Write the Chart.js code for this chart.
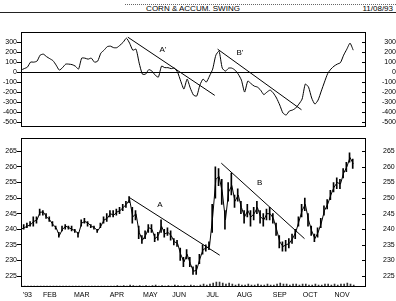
<!DOCTYPE html>
<html>
<head>
<meta charset="utf-8">
<script src="https://cdn.jsdelivr.net/npm/chart.js@4.4.1/dist/chart.umd.min.js"></script>
<style>
  html, body { margin: 0; padding: 0; background: #fff; }
  body { width: 396px; height: 301px; position: relative; overflow: hidden;
         font-family: 'Liberation Sans Narrow', 'Arial Narrow', sans-serif; color: #000; }
  .rule { position: absolute; height: 0; }
  .head { position: absolute; top: 5px; font-size: 8px; line-height: 7px; white-space: nowrap; color: #000; }
  canvas { position: absolute; left: 0; }
</style>
</head>
<body>
<div class="rule" style="left:125px; right:0; top:4px; border-top:1px dotted #666;"></div>
<div class="rule" style="left:0; right:0; top:12px; border-top:1px solid #222;"></div>
<div class="head" style="left:0; width:386px; text-align:center;">CORN &amp; ACCUM. SWING</div>
<div class="head" style="right:3px;">11/08/93</div>
<canvas id="swing-chart" width="396" height="104" style="top:28px"></canvas>
<canvas id="price-chart" width="396" height="167" style="top:134px"></canvas>
<script>
// one sample every 2 trading days, Jan 4 .. Nov 8 1993
const priceHigh = [
    241, 241.5, 242, 242.5, 244, 244, 246.5, 246, 245, 244,
    242.5, 241, 239, 241, 241.5, 241, 241, 240, 239, 243,
    243.5, 242.5, 241.5, 241, 240, 242, 244, 245, 246, 246,
    246.5, 247, 248, 249, 250.5, 247, 246, 241, 238, 239.5,
    241.5, 241.5, 238.5, 239, 243, 240, 240.5, 239.5, 237, 236.5,
    234, 231, 233.5, 231, 228, 228.5, 232, 235, 235, 236,
    248, 260, 259.5, 256, 246, 255, 258, 251, 253, 249,
    246, 248, 246, 247, 249, 246, 245, 246.5, 247, 245,
    242, 238, 236, 236.5, 237, 238.5, 240, 244, 248, 250,
    245, 241, 238.5, 240.5, 243.5, 247.5, 249.5, 252.5, 255, 256.5,
    256, 259.5, 261.5, 264.5, 262.5
];
const priceLow = [
    239, 240, 240.5, 241, 241, 242, 244.5, 244.5, 243.5, 242.5,
    241, 240, 237.5, 239.5, 240, 240, 239.5, 239, 237.5, 241,
    242, 241, 240.5, 240, 239, 240.5, 242, 242.5, 244, 244,
    244.5, 245, 246, 247, 248.5, 242, 243, 237, 235.5, 237,
    239, 239, 236, 236.5, 239, 237.5, 238, 236.5, 235, 234.5,
    230, 228, 230.5, 228, 225.5, 225.5, 229, 232, 233, 233.5,
    239, 250, 254, 248, 240, 249, 251, 247, 249, 245,
    242, 244, 241, 243, 245, 242, 241, 243, 243, 242,
    238, 234, 233, 233, 234, 235.5, 237, 241, 244, 246,
    241, 238, 236, 237.5, 240.5, 244.5, 246.5, 249.5, 252, 253,
    253, 256.5, 258.5, 261.5, 259.5
];
const priceClose = [
    240, 240.5, 241, 241.5, 242.5, 243, 245.5, 245.5, 244, 243,
    241.5, 240.5, 238, 240, 241, 240.5, 240, 239.5, 238.5, 242,
    242.5, 242, 241, 240.5, 239.5, 241, 243, 243.5, 245, 244.5,
    245.5, 246, 247, 248, 249.5, 244, 245, 239, 236.5, 238,
    240.5, 240, 237, 238, 241, 238.5, 239, 238, 236, 235.5,
    232, 229.5, 232, 229, 226.5, 227, 230.5, 233.5, 234, 234.5,
    244, 256, 257, 252, 243, 252, 254, 249, 251, 247,
    244, 246, 244, 245, 247, 244, 243, 245, 245, 243.5,
    240, 236, 234.5, 235, 235.5, 237, 239, 242.5, 246, 248,
    243, 239.5, 237, 239, 242, 246, 248, 251, 253.5, 255,
    254.5, 258, 260, 263, 261
];
// volume, relative units
const volume = [
    1, 1, 1, 1, 1, 1, 1, 1, 1, 1,
    1, 1, 1, 1, 1, 1, 1, 1, 1, 1,
    1, 1, 1, 1, 1, 1, 1, 1, 1, 1,
    1.5, 1, 1.5, 1, 2, 1.5, 1, 1.5, 1, 1.5,
    1, 1.5, 2, 1, 1.5, 1, 1.5, 1, 2, 1.5,
    1, 1.5, 1, 2, 1.5, 1, 2, 3, 2, 3,
    4, 5, 5, 4, 3, 4, 3, 2, 3, 2,
    2, 3, 2, 2, 3, 2, 2, 3, 2, 2,
    3, 4, 3, 3, 2, 3, 3, 2, 3, 3,
    2, 2, 3, 2, 2, 3, 3, 2, 3, 2,
    3, 3, 4, 3, 2
];
const swingIndex = [
    20, 35, 50, 100, 100, 110, 170, 180, 155, 135,
    115, 70, 20, 45, 80, 80, 75, 60, 30, 140,
    140, 130, 140, 100, 110, 190, 220, 255, 260, 245,
    245, 270, 300, 340, 290, 220, 230, 90, -20, -20,
    25, 10, -30, -50, 60, 45, 45, 35, 40, 0,
    -90, -170, -70, -160, -230, -240, -130, -70, -100, -40,
    30, 170, 210, 40, 10, 40, 40, 20, -20, -80,
    -200, -90, -115, -140, -150, -180, -225, -200, -180, -210,
    -260, -330, -410, -430, -390, -380, -360, -320, -270, -120,
    -150, -260, -320, -280, -190, -100, -15, 30, 60, 80,
    95, 170, 230, 290, 220
];
const days = priceClose.map((_, i) => i * 2);

const monthTicks = [4, 18, 38, 60, 81, 99, 120, 140, 162, 181, 201];
const monthLabels = ["'93", 'FEB', 'MAR', 'APR', 'MAY', 'JUN', 'JUL', 'AUG', 'SEP', 'OCT', 'NOV'];
const priceTicks = [265, 260, 255, 250, 245, 240, 235, 230, 225];
const swingTicks = [300, 200, 100, 0, -100, -200, -300, -400, -500];

// trend lines: [trading day, value]
const lineA = [[67.5, 250.3], [124.4, 231.7]];
const lineB = [[125.4, 261.2], [177.5, 237]];
const lineA2 = [[66.9, 350], [121.3, -233]];
const lineB2 = [[123.1, 230], [175.6, -377]];
const priceNotes = [[87, 248, 'A'], [149.4, 255, 'B']];
const swingNotes = [[88.8, 220, "A'"], [137, 195, "B'"]];

const FONT = { family: "'Liberation Sans Narrow', 'Arial Narrow', sans-serif", size: 7 };
const CLEAR = 'rgba(0,0,0,0)';

const toPoints = (pairs) => pairs.map(p => ({ x: p[0], y: p[1] }));

// frame, inward ticks on the right, zero line and the A/B notes
const framePlugin = {
    id: 'frame',
    afterDraw(chart, args, opts) {
        const { ctx, chartArea: a } = chart;
        const y = chart.scales.y;
        ctx.save();
        ctx.strokeStyle = '#000';
        ctx.lineWidth = 1;
        ctx.strokeRect(Math.round(a.left) + 0.5, Math.round(a.top) + 0.5,
            Math.round(a.right - a.left) - 1, Math.round(a.bottom - a.top) - 1);
        ctx.beginPath();
        y.ticks.forEach(t => {
            const py = Math.round(y.getPixelForValue(t.value)) + 0.5;
            ctx.moveTo(a.right - 4, py);
            ctx.lineTo(a.right, py);
        });
        if (opts.zero) {
            const pz = Math.round(y.getPixelForValue(0)) + 0.5;
            ctx.moveTo(a.left, pz);
            ctx.lineTo(a.right, pz);
        }
        ctx.stroke();
        ctx.fillStyle = '#000';
        ctx.font = '8px ' + FONT.family;
        ctx.textAlign = 'center';
        ctx.textBaseline = 'middle';
        (opts.notes || []).forEach(n => {
            ctx.fillText(n[2], chart.scales.x.getPixelForValue(n[0]), y.getPixelForValue(n[1]));
        });
        ctx.restore();
    }
};

function yAxes(min, max, tickList, rightGap, rightAlign) {
    const setTicks = (scale) => { scale.ticks = tickList.map(v => ({ value: v })); };
    return {
        y: {
            position: 'left', min: min, max: max,
            afterBuildTicks: setTicks,
            afterFit: (scale) => { scale.width = 21; },
            grid: { drawOnChartArea: false, tickLength: 4, tickColor: '#000' },
            border: { display: false },
            ticks: { font: FONT, color: '#000', padding: 0, autoSkip: false }
        },
        y2: {
            position: 'right', min: min, max: max,
            afterBuildTicks: setTicks,
            afterFit: (scale) => { scale.width = 30; },
            grid: { drawOnChartArea: false, tickLength: rightGap, tickColor: CLEAR },
            border: { display: false },
            ticks: { font: FONT, color: '#000', padding: 0, crossAlign: rightAlign, autoSkip: false }
        }
    };
}

function trend(pairs) {
    return {
        type: 'line', data: toPoints(pairs), yAxisID: 'y',
        borderColor: '#000', borderWidth: 1, pointRadius: 0
    };
}

document.addEventListener('DOMContentLoaded', () => {
    const swingCanvas = document.getElementById('swing-chart');
    new Chart(swingCanvas.getContext('2d'), {
        type: 'line',
        data: {
            datasets: [
                {
                    label: 'Accumulation Swing',
                    yAxisID: 'y',
                    data: swingIndex.map((v, i) => ({ x: days[i], y: v })),
                    borderColor: '#000', borderWidth: 1, pointRadius: 0, tension: 0.2
                },
                trend(lineA2),
                trend(lineB2)
            ]
        },
        options: {
            responsive: false, animation: false,
            layout: { padding: { top: 4, bottom: 5, left: 0, right: 0 } },
            plugins: { legend: { display: false }, tooltip: { enabled: false },
                       frame: { zero: true, notes: swingNotes } },
            scales: Object.assign({
                x: { type: 'linear', min: 0, max: 216, display: false }
            }, yAxes(-550, 400, swingTicks, 5, 'far'))
        },
        plugins: [framePlugin]
    });

    const priceCanvas = document.getElementById('price-chart');
    new Chart(priceCanvas.getContext('2d'), {
        type: 'line',
        data: {
            datasets: [
                {
                    type: 'bar',
                    label: 'Corn',
                    yAxisID: 'y',
                    data: priceLow.map((lo, i) => ({ x: days[i], y: [lo, priceHigh[i]] })),
                    backgroundColor: '#000', barThickness: 1
                },
                {
                    label: 'Close',
                    yAxisID: 'y',
                    data: priceClose.map((v, i) => ({ x: days[i], y: v })),
                    borderColor: '#000', borderWidth: 1, pointRadius: 0
                },
                {
                    type: 'bar',
                    label: 'Volume',
                    yAxisID: 'vol',
                    data: volume.map((v, i) => ({ x: days[i], y: v })),
                    backgroundColor: '#333', barThickness: 1
                },
                trend(lineA),
                trend(lineB)
            ]
        },
        options: {
            responsive: false, animation: false,
            layout: { padding: { top: 4, bottom: 0, left: 0, right: 0 } },
            plugins: { legend: { display: false }, tooltip: { enabled: false },
                       frame: { zero: false, notes: priceNotes } },
            scales: Object.assign({
                x: {
                    type: 'linear', min: 0, max: 216, offset: false,
                    afterBuildTicks: (scale) => { scale.ticks = monthTicks.map(v => ({ value: v })); },
                    afterFit: (scale) => { scale.height = 14; },
                    grid: { drawOnChartArea: false, tickLength: 4, tickColor: CLEAR },
                    border: { display: false },
                    ticks: {
                        font: FONT, color: '#000', padding: 0, maxRotation: 0, autoSkip: false,
                        callback: (value, index) => monthLabels[index]
                    }
                }
            }, yAxes(221.5, 269.2, priceTicks, 17, 'near'), {
                vol: { display: false, min: 0, max: 149 }
            })
        },
        plugins: [framePlugin]
    });
});
</script>
</body>
</html>
